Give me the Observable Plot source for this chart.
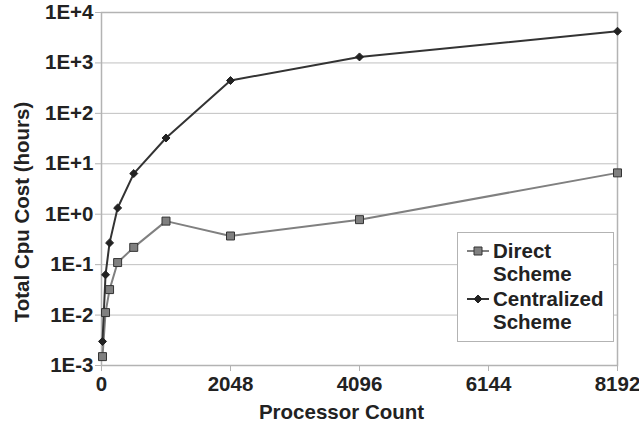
<!DOCTYPE html>
<html>
<head>
<meta charset="utf-8">
<script src="https://cdn.jsdelivr.net/npm/d3@7"></script>
<script src="https://cdn.jsdelivr.net/npm/@observablehq/plot@0.6"></script>
<style>
  html, body { margin: 0; padding: 0; background: #fff; }
  #wrap { position: relative; width: 639px; height: 428px; font-family: "Liberation Sans", Arial, sans-serif; }
  #legend { position: absolute; left: 457px; top: 232px; width: 157px; height: 110px; box-sizing: border-box;
    border: 1px solid #b3b3b3; background: #fff; font-weight: bold; font-size: 20.5px; color: #222; }
  .item { position: absolute; left: 0; }
  .item svg { position: absolute; left: 7px; }
  .item .txt { position: absolute; left: 35px; line-height: 22.5px; white-space: nowrap; }
</style>
</head>
<body>
<div id="wrap"></div>
<script>
const procs = [16, 64, 128, 256, 512, 1024, 2048, 4096, 8192];
const directCost = [0.0015, 0.0112, 0.032, 0.11, 0.22, 0.73, 0.37, 0.78, 6.6];
const centralCost = [0.003, 0.063, 0.27, 1.33, 6.4, 32.5, 448, 1315, 4250];
const xTicks = [0, 2048, 4096, 6144, 8192];
const yTicks = [1e-3, 1e-2, 1e-1, 1e0, 1e1, 1e2, 1e3, 1e4];
const seriesNames = ["Direct Scheme", "Centralized Scheme"];
const xLabel = "Processor Count";
const yLabel = "Total Cpu Cost (hours)";

const direct = procs.map((p, i) => ({p, v: directCost[i]}));
const central = procs.map((p, i) => ({p, v: centralCost[i]}));

const fmtE = d => {
  const e = Math.round(Math.log10(d));
  return "1E" + (e >= 0 ? "+" : "-") + Math.abs(e);
};

const FS = 20.5;
const chart = Plot.plot({
  width: 639,
  height: 428,
  marginLeft: 101,
  marginRight: 22,
  marginTop: 12,
  marginBottom: 63,
  style: {fontFamily: "Liberation Sans, Arial, sans-serif", fontWeight: "bold", fontSize: FS + "px", color: "#222", background: "#fff"},
  x: {domain: [0, 8192]},
  y: {type: "log", domain: [1e-3, 1e4]},
  marks: [
    Plot.ruleY(yTicks, {stroke: "#c0c0c0", strokeWidth: 1}),
    Plot.frame({stroke: "#b3b3b3", strokeWidth: 1.5}),
    Plot.axisY({ticks: yTicks, tickFormat: fmtE, tickSize: 6, tickPadding: 2, stroke: "#b3b3b3", label: null, fontSize: FS, fill: "#222"}),
    Plot.axisX({ticks: xTicks, tickFormat: d => String(d), tickSize: 6, tickPadding: 5, stroke: "#b3b3b3", label: null, fontSize: FS, fill: "#222"}),
    Plot.line(direct, {x: "p", y: "v", stroke: "#808080", strokeWidth: 2}),
    Plot.line(central, {x: "p", y: "v", stroke: "#333", strokeWidth: 2}),
    Plot.dot(direct, {x: "p", y: "v", symbol: "square", r: 4.5, fill: "#808080", stroke: "#333", strokeWidth: 1}),
    Plot.dot(central, {x: "p", y: "v", symbol: "diamond2", r: 3.6, fill: "#222", stroke: "#222", strokeWidth: 1}),
    Plot.text([xLabel], {frameAnchor: "bottom", dx: -18, dy: 53, fontSize: FS, fill: "#222", fontWeight: "bold"}),
    Plot.text([yLabel], {frameAnchor: "left", textAnchor: "middle", lineAnchor: "middle", rotate: -90, dx: -79, dy: 23, fontSize: FS, fill: "#222", fontWeight: "bold"})
  ]
});
const wrap = document.getElementById("wrap");
wrap.appendChild(chart);

// Legend
const legend = document.createElement("div");
legend.id = "legend";
const items = [
  {name: seriesNames[0], top: 7, sym: "square"},
  {name: seriesNames[1], top: 55, sym: "diamond"}
];
items.forEach(it => {
  const d = document.createElement("div");
  d.className = "item";
  d.style.top = it.top + "px";
  const words = it.name.split(" ");
  const ns = "http://www.w3.org/2000/svg";
  const svg = document.createElementNS(ns, "svg");
  svg.setAttribute("width", 26); svg.setAttribute("height", 20);
  svg.style.top = "1px";
  const ln = document.createElementNS(ns, "line");
  ln.setAttribute("x1", 2); ln.setAttribute("x2", 24); ln.setAttribute("y1", 10); ln.setAttribute("y2", 10);
  ln.setAttribute("stroke", it.sym === "square" ? "#808080" : "#333"); ln.setAttribute("stroke-width", 2);
  svg.appendChild(ln);
  const sym = document.createElementNS(ns, "path");
  sym.setAttribute("d", d3.symbol(it.sym === "square" ? d3.symbolSquare : d3.symbolDiamond2, it.sym === "square" ? 64 : 41)());
  sym.setAttribute("transform", "translate(13,10)");
  sym.setAttribute("fill", it.sym === "square" ? "#808080" : "#222");
  sym.setAttribute("stroke", it.sym === "square" ? "#333" : "#222");
  svg.appendChild(sym);
  d.appendChild(svg);
  const t = document.createElement("div");
  t.className = "txt";
  t.innerHTML = words[0] + "<br>" + words.slice(1).join(" ");
  d.appendChild(t);
  legend.appendChild(d);
});
wrap.appendChild(legend);
</script>
</body>
</html>
